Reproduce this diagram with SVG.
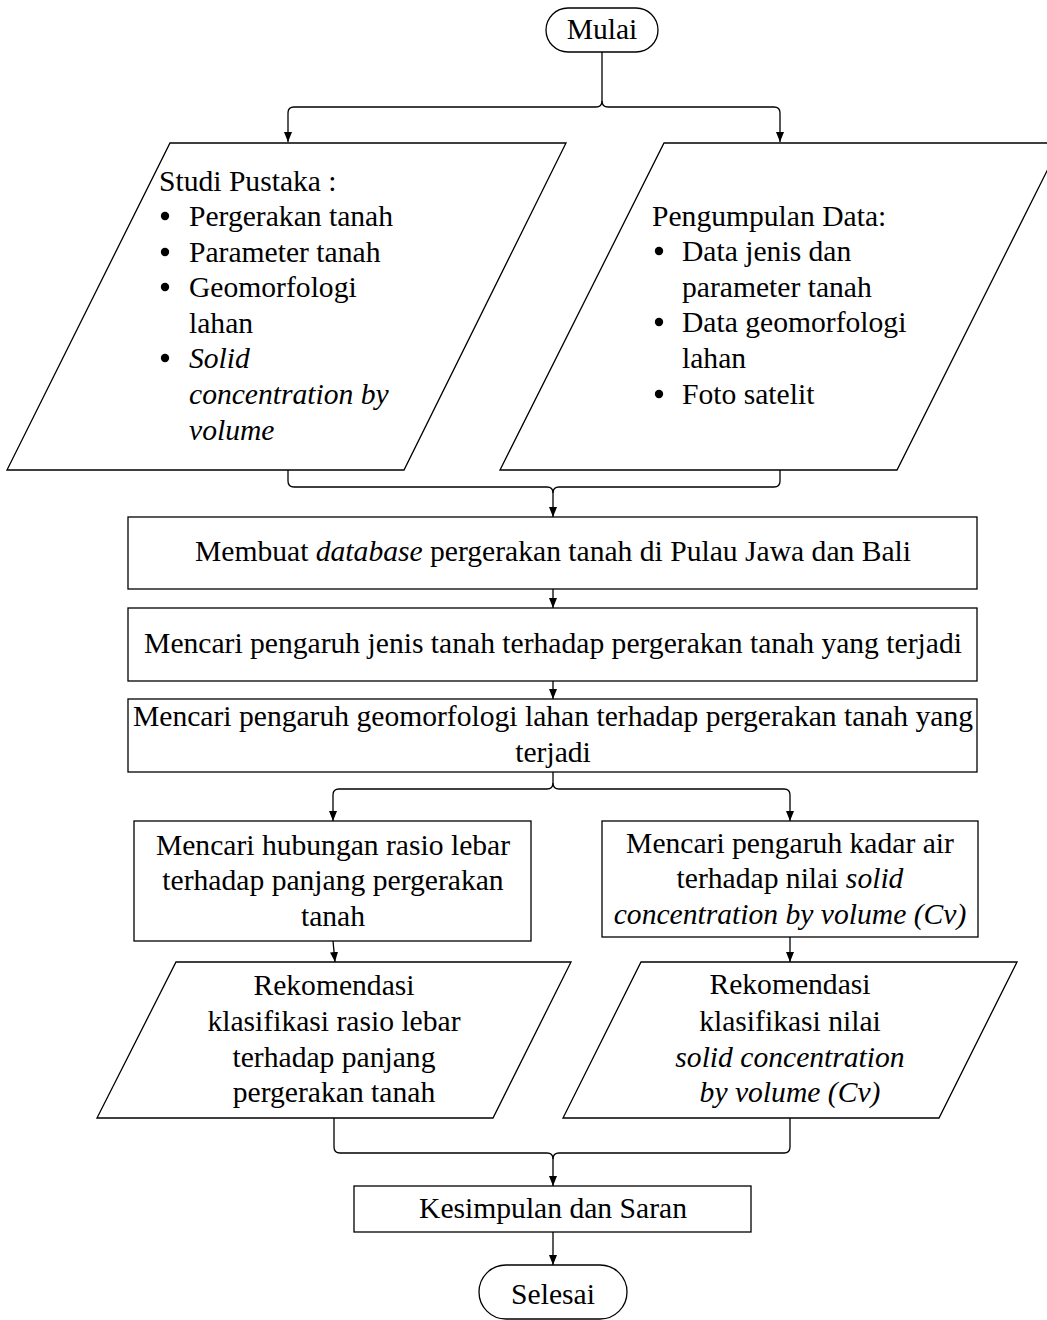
<svg xmlns="http://www.w3.org/2000/svg" width="1047" height="1320" viewBox="0 0 1047 1320">
<defs>
<marker id="ah" markerWidth="10" markerHeight="8" refX="10" refY="4" orient="auto" markerUnits="userSpaceOnUse" viewBox="0 0 10 8">
<path d="M0,0 L10,4 L0,8 Z" fill="#000"/>
</marker>
<style>
.s{fill:#fff;stroke:#000;stroke-width:1.3}
.c{fill:none;stroke:#000;stroke-width:1.3}
text{font-family:"Liberation Serif","Times New Roman",serif;font-size:29.6px;fill:#000}
.m{text-anchor:middle}
.i{font-style:italic}
</style>
</defs>
<rect width="1047" height="1320" fill="#fff"/>

<g id="connectors">
<path class="c" d="M602,52 V101 Q602,107 596,107 H294 Q288,107 288,113 V142" marker-end="url(#ah)"/>
<path class="c" d="M602,101 Q602,107 608,107 H774 Q780,107 780,113 V142" marker-end="url(#ah)"/>
<path class="c" d="M288,470 V481 Q288,487 294,487 H547 Q553,487 553,493 V517" marker-end="url(#ah)"/>
<path class="c" d="M780,470 V481 Q780,487 774,487 H559 Q553,487 553,493"/>
<path class="c" d="M553,589 V608" marker-end="url(#ah)"/>
<path class="c" d="M553,681 V699" marker-end="url(#ah)"/>
<path class="c" d="M553,772 V783 Q553,789 547,789 H339 Q333,789 333,795 V821" marker-end="url(#ah)"/>
<path class="c" d="M553,783 Q553,789 559,789 H784 Q790,789 790,795 V821" marker-end="url(#ah)"/>
<path class="c" d="M333,941 L335,962" marker-end="url(#ah)"/>
<path class="c" d="M790,937 V962" marker-end="url(#ah)"/>
<path class="c" d="M334,1118 V1147 Q334,1153 340,1153 H547 Q553,1153 553,1159 V1186" marker-end="url(#ah)"/>
<path class="c" d="M790,1118 V1147 Q790,1153 784,1153 H559 Q553,1153 553,1159"/>
<path class="c" d="M553,1232 V1265" marker-end="url(#ah)"/>
</g>

<g id="mulai">
<rect class="s" x="546" y="8" width="112" height="44" rx="22" ry="22"/>
<text class="m" x="602" y="39">Mulai</text>
</g>

<g id="studi-pustaka">
<polygon class="s" points="170,143 566,143 404,470 7,470"/>
<text x="159" y="191">Studi Pustaka :</text>
<circle cx="165" cy="216" r="4.2"/>
<text x="189" y="226">Pergerakan tanah</text>
<circle cx="165" cy="252" r="4.2"/>
<text x="189" y="262">Parameter tanah</text>
<circle cx="165" cy="287" r="4.2"/>
<text x="189" y="297">Geomorfologi</text>
<text x="189" y="333">lahan</text>
<circle cx="165" cy="358" r="4.2"/>
<text x="189" y="368" class="i">Solid</text>
<text x="189" y="404" class="i">concentration by</text>
<text x="189" y="440" class="i">volume</text>
</g>

<g id="pengumpulan-data">
<polygon class="s" points="664,143 1061,143 897,470 500,470"/>
<text x="652" y="226">Pengumpulan Data:</text>
<circle cx="659" cy="251" r="4.2"/>
<text x="682" y="261">Data jenis dan</text>
<text x="682" y="297">parameter tanah</text>
<circle cx="659" cy="322" r="4.2"/>
<text x="682" y="332">Data geomorfologi</text>
<text x="682" y="368">lahan</text>
<circle cx="659" cy="394" r="4.2"/>
<text x="682" y="404">Foto satelit</text>
</g>

<g id="membuat-database">
<rect class="s" x="128" y="517" width="849" height="72"/>
<text class="m" x="553" y="561">Membuat <tspan class="i">database</tspan> pergerakan tanah di Pulau Jawa dan Bali</text>
</g>

<g id="pengaruh-jenis-tanah">
<rect class="s" x="128" y="608" width="849" height="73"/>
<text class="m" x="553" y="653">Mencari pengaruh jenis tanah terhadap pergerakan tanah yang terjadi</text>
</g>

<g id="pengaruh-geomorfologi">
<rect class="s" x="128" y="699" width="849" height="73"/>
<text class="m" x="553" y="726">Mencari pengaruh geomorfologi lahan terhadap pergerakan tanah yang</text>
<text class="m" x="553" y="762">terjadi</text>
</g>

<g id="rasio-lebar">
<rect class="s" x="134" y="821" width="397" height="120"/>
<text class="m" x="333" y="855">Mencari hubungan rasio lebar</text>
<text class="m" x="333" y="890">terhadap panjang pergerakan</text>
<text class="m" x="333" y="926">tanah</text>
</g>

<g id="kadar-air">
<rect class="s" x="602" y="821" width="376" height="116"/>
<text class="m" x="790" y="853">Mencari pengaruh kadar air</text>
<text class="m" x="790" y="888">terhadap nilai <tspan class="i">solid</tspan></text>
<text class="m i" x="790" y="924">concentration by volume (Cv)</text>
</g>

<g id="rekomendasi-rasio">
<polygon class="s" points="176,962 571,962 493,1118 97,1118"/>
<text class="m" x="334" y="995">Rekomendasi</text>
<text class="m" x="334" y="1031">klasifikasi rasio lebar</text>
<text class="m" x="334" y="1067">terhadap panjang</text>
<text class="m" x="334" y="1102">pergerakan tanah</text>
</g>

<g id="rekomendasi-cv">
<polygon class="s" points="641,962 1017,962 939,1118 563,1118"/>
<text class="m" x="790" y="994">Rekomendasi</text>
<text class="m" x="790" y="1031">klasifikasi nilai</text>
<text class="m i" x="790" y="1067">solid concentration</text>
<text class="m i" x="790" y="1102">by volume (Cv)</text>
</g>

<g id="kesimpulan">
<rect class="s" x="354" y="1186" width="397" height="46"/>
<text class="m" x="553" y="1218">Kesimpulan dan Saran</text>
</g>

<g id="selesai">
<rect class="s" x="479" y="1265" width="148" height="54" rx="27" ry="27"/>
<text class="m" x="553" y="1304">Selesai</text>
</g>
</svg>
